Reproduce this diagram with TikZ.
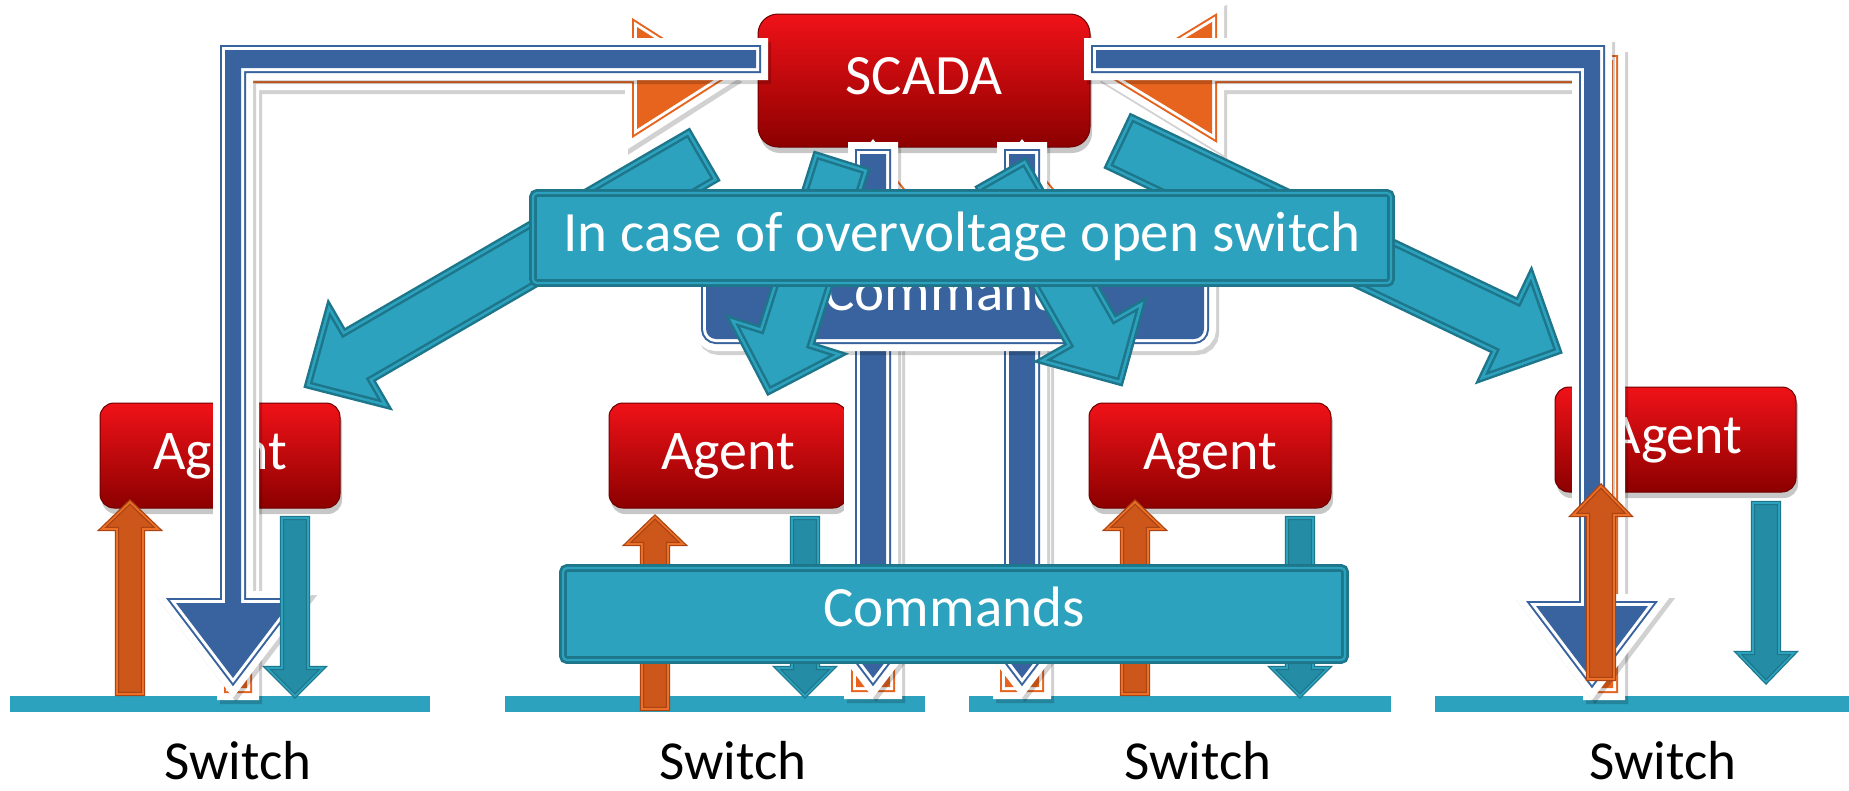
\documentclass[tikz,border=0pt]{standalone}
\usepackage{fontspec}
\setmainfont{Carlito}
\usetikzlibrary{calc}

\definecolor{bluA}{RGB}{57,99,158}
\definecolor{tealF}{RGB}{44,162,190}
\definecolor{tealD}{RGB}{30,118,138}
\definecolor{tealS}{RGB}{36,140,164}
\definecolor{orgF}{RGB}{230,100,30}
\definecolor{orgM}{RGB}{205,86,26}
\definecolor{orgD}{RGB}{170,68,18}
\definecolor{orgL}{RGB}{236,112,40}
\definecolor{redT}{RGB}{240,18,24}
\definecolor{redB}{RGB}{140,0,0}
\definecolor{redD}{RGB}{110,0,0}

% style, tail, tip, shaft half width, head half width, head length
\newcommand\blockarr[6]{%
  \path[#1] ($#2!#4pt!90:#3$) -- ($#3!#6pt!#2!#4pt!90:#3$) -- ($#3!#6pt!#2!#5pt!90:#3$) -- #3
    -- ($#3!#6pt!#2!#5pt!-90:#3$) -- ($#3!#6pt!#2!#4pt!-90:#3$) -- ($#2!#4pt!-90:#3$) -- cycle;}

\tikzset{
  redbox/.style={rounded corners=#1, top color=redT, bottom color=redB, draw=redD, line width=1pt,
    text=white, inner sep=0pt,
    preaction={fill=black, opacity=.22, transform canvas={xshift=2pt,yshift=-6pt}}},
  agentbox/.style={redbox=14pt, minimum height=105pt, font=\fontsize{56}{60}\selectfont,
    text height=35pt, text depth=8pt},
  bent/.style={fill=#1,
    preaction={draw=black, opacity=.18, line width=24pt, line join=miter, transform canvas={xshift=3pt,yshift=-4pt}},
    preaction={draw=white, line width=24pt, line join=miter},
    preaction={draw=#1, line width=10pt, line join=miter},
    preaction={draw=white, line width=6pt, line join=miter}},
  tarr/.style={fill=tealF, draw=tealD, line width=2.5pt, double=tealF, double distance=2.5pt, line join=miter},
  starr/.style={fill=tealS, draw=tealD, line width=1.3pt, double=tealF, double distance=1.6pt, line join=miter},
  soarr/.style={fill=orgM, draw=orgD, line width=1.3pt, double=orgL, double distance=1.6pt, line join=miter},
  banner/.style={fill=tealF, draw=tealD, line width=2.8pt, double=tealF, double distance=2.2pt,
    rounded corners=4pt, text=white, inner sep=0pt, font=\fontsize{57}{60}\selectfont, text height=36pt},
  swlabel/.style={anchor=base, inner sep=0pt, text=black, font=\fontsize{55}{60}\selectfont},
}

\begin{document}
\begin{tikzpicture}[x=1pt,y=-1pt]
\useasboundingbox (0,0) rectangle (1849,790);
\fill[white] (0,0) rectangle (1849,790);

% switch bars
\fill[tealF] (10,696) rectangle (430,712);
\fill[tealF] (505,696) rectangle (925,712);
\fill[tealF] (969,696) rectangle (1391,712);
\fill[tealF] (1435,696) rectangle (1849,712);

\node[swlabel] (sw1) at (238,779) {Switch};
\node[swlabel] (sw2) at (733,779) {Switch};
\node[swlabel] (sw3) at (1198,779) {Switch};
\node[swlabel] (sw4) at (1663,779) {Switch};

% SCADA and agents
\node[redbox=20pt, minimum width=332pt, minimum height=133pt, font=\fontsize{57}{60}\selectfont,
  text height=36pt, text depth=8pt] (scada) at (924,80.5) {SCADA};
\node[agentbox, minimum width=240pt] (ag1) at (220,455.5) {Agent};
\node[agentbox, minimum width=238pt] (ag2) at (728,455.5) {Agent};
\node[agentbox, minimum width=242pt] (ag3) at (1210,455.5) {Agent};
\node[agentbox, minimum width=241pt] (ag4) at (1675.5,439.5) {Agent};

% orange bent arrows (reports to SCADA)
\path[bent=orgF] (229,688) -- (229,60) -- (637,60) -- (637,27) -- (717,78) -- (637,129)
  -- (637,78) -- (247,78) -- (247,688) -- cycle;
\path[bent=orgF] (1613,688) -- (1613,60) -- (1212,60) -- (1212,22) -- (1120,78) -- (1212,134)
  -- (1212,78) -- (1595,78) -- (1595,688) -- cycle;

% orange centre arrows
\coordinate (oc1a) at (873,687); \coordinate (oc1b) at (873,158);
\coordinate (oc2a) at (1022,687); \coordinate (oc2b) at (1022,158);
\blockarr{bent=orgF}{(oc1a)}{(oc1b)}{17}{28}{34}
\blockarr{bent=orgF}{(oc2a)}{(oc2b)}{17}{28}{34}

% blue bent arrows (SCADA commands)
\path[bent=bluA] (756,50) -- (225,50) -- (225,603) -- (176,603) -- (233,678) -- (290,603)
  -- (241,603) -- (241,68) -- (756,68) -- cycle;
\path[bent=bluA] (1096,50) -- (1600,50) -- (1600,606) -- (1648,606) -- (1592,680) -- (1536,606)
  -- (1584,606) -- (1584,68) -- (1096,68) -- cycle;
\coordinate (bc1a) at (873,154); \coordinate (bc1b) at (873,678);
\coordinate (bc2a) at (1022,154); \coordinate (bc2b) at (1022,678);
\blockarr{bent=bluA}{(bc1a)}{(bc1b)}{13}{57}{75}
\blockarr{bent=bluA}{(bc2a)}{(bc2b)}{13}{57}{75}

% small agent arrows
\coordinate (o1a) at (130,694);  \coordinate (o1b) at (130,502);
\coordinate (d1a) at (295,518);  \coordinate (d1b) at (295,696);
\coordinate (o2a) at (655,709);  \coordinate (o2b) at (655,517);
\coordinate (d2a) at (805,518);  \coordinate (d2b) at (805,696);
\coordinate (o3a) at (1135,694); \coordinate (o3b) at (1135,502);
\coordinate (d3a) at (1300,518); \coordinate (d3b) at (1300,696);
\coordinate (o4a) at (1601,679); \coordinate (o4b) at (1601,486);
\coordinate (d4a) at (1766,503); \coordinate (d4b) at (1766,682);
\blockarr{soarr}{(o1a)}{(o1b)}{13}{28}{27}
\blockarr{starr}{(d1a)}{(d1b)}{13}{28}{28}
\blockarr{soarr}{(o2a)}{(o2b)}{13}{28}{27}
\blockarr{starr}{(d2a)}{(d2b)}{13}{28}{28}
\blockarr{soarr}{(o3a)}{(o3b)}{13}{28}{27}
\blockarr{starr}{(d3a)}{(d3b)}{13}{28}{28}
\blockarr{soarr}{(o4a)}{(o4b)}{13}{28}{29}
\blockarr{starr}{(d4a)}{(d4b)}{13}{28}{29}

% blue Commands box
\node[bent=bluA, rounded corners=10pt, minimum width=498pt, minimum height=94pt, text=white,
  font=\fontsize{57}{60}\selectfont, text height=36pt, text depth=0pt, inner sep=0pt] (cmdbox) at (955,292) {Commands};

% big teal arrows
\coordinate (t1a) at (702,156);  \coordinate (t1b) at (308,385);
\coordinate (t2a) at (841,163);  \coordinate (t2b) at (769,391);
\coordinate (t3a) at (1002,175); \coordinate (t3b) at (1120,382);
\coordinate (t4a) at (1120,142); \coordinate (t4b) at (1558,351);
\blockarr{tarr}{(t1a)}{(t1b)}{27}{56}{57}
\blockarr{tarr}{(t2a)}{(t2b)}{26}{56}{56}
\blockarr{tarr}{(t3a)}{(t3b)}{26}{57}{57}
\blockarr{tarr}{(t4a)}{(t4b)}{27}{57}{57}

% banners
\node[banner, minimum width=858pt, minimum height=90pt, text depth=9pt] (incase) at (962,238) {In case of overvoltage open switch};
\node[banner, minimum width=782pt, minimum height=92pt, text depth=12pt] (cmds) at (954,614) {Commands};
\end{tikzpicture}
\end{document}
